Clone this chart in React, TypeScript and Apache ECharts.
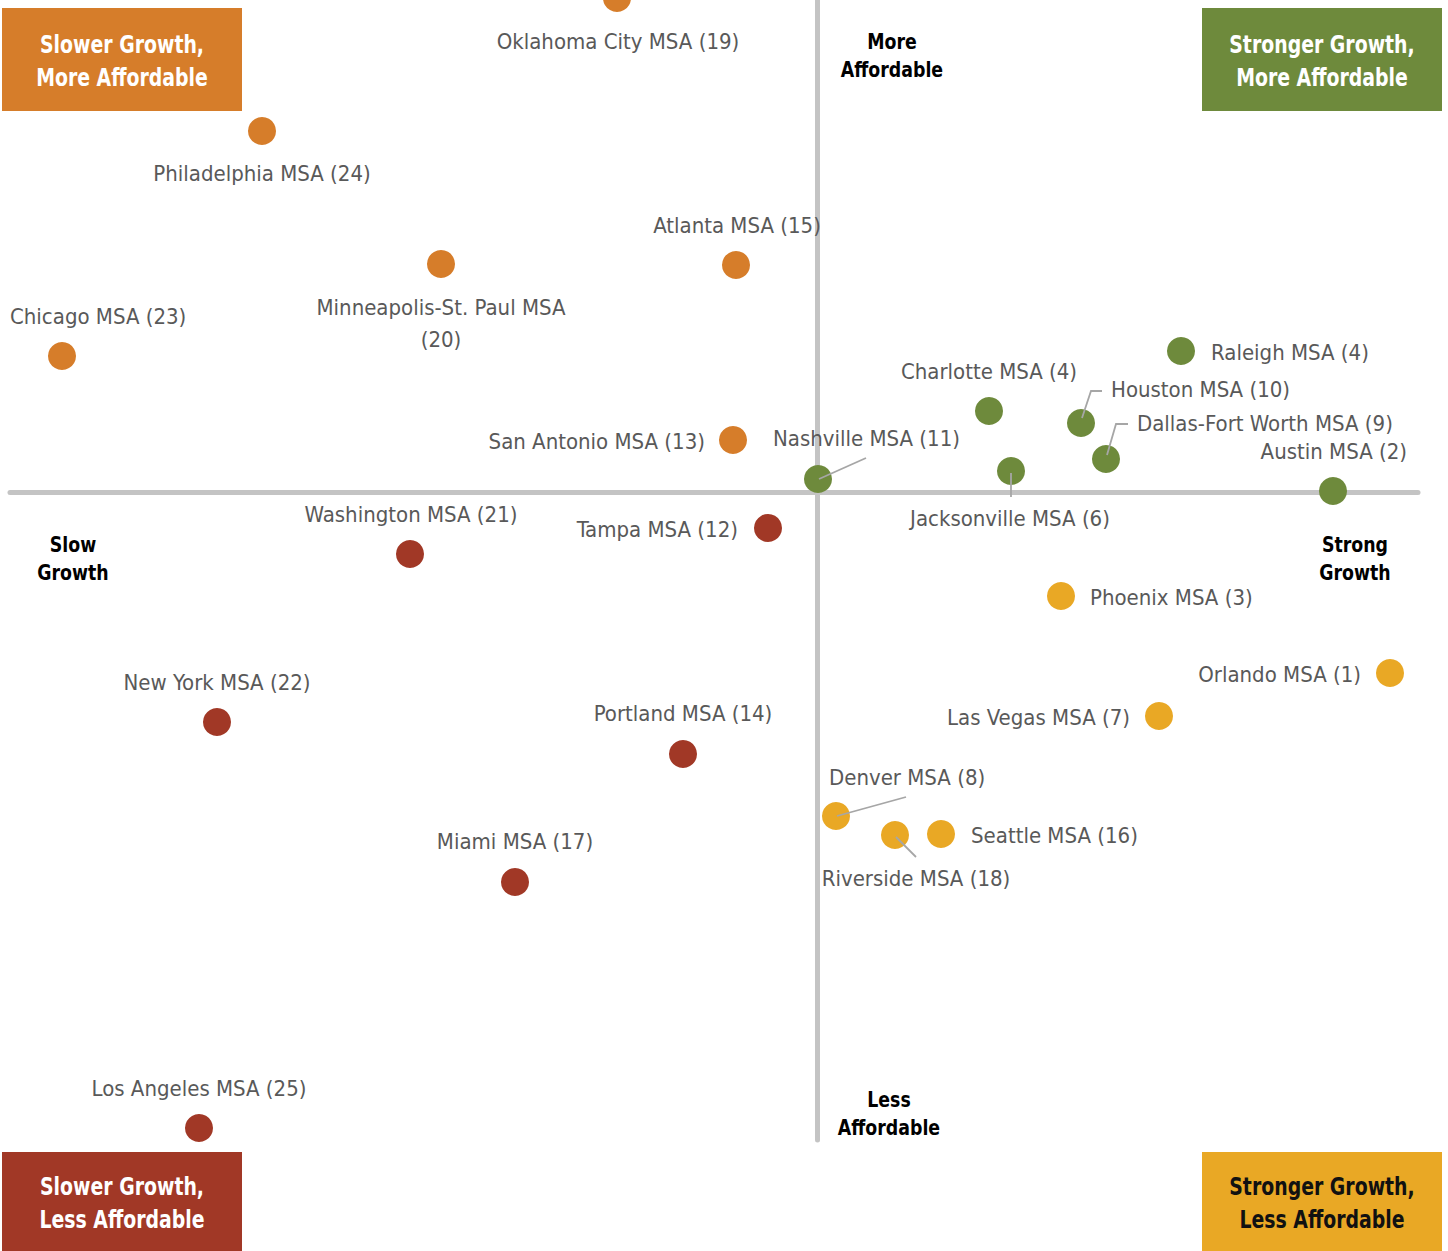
import React, { useEffect, useRef } from "react";
import * as echarts from "echarts";

// Growth score (x) vs affordability score (y); axes cross at 0
const orangeNames = ["Oklahoma City MSA (19)", "Philadelphia MSA (24)", "Atlanta MSA (15)", "Minneapolis-St. Paul MSA\n(20)", "Chicago MSA (23)", "San Antonio MSA (13)"];
const orangeX = [-2.0, -5.55, -0.81, -3.76, -7.55, -0.84];
const orangeY = [4.94, 3.61, 2.27, 2.28, 1.36, 0.52];

const greenNames = ["Raleigh MSA (4)", "Charlotte MSA (4)", "Houston MSA (10)", "Dallas-Fort Worth MSA (9)", "Nashville MSA (11)", "Jacksonville MSA (6)", "Austin MSA (2)"];
const greenX = [3.64, 1.72, 2.64, 2.89, 0.01, 1.94, 5.16];
const greenY = [1.41, 0.81, 0.69, 0.33, 0.13, 0.21, 0.01];

const redNames = ["Washington MSA (21)", "Tampa MSA (12)", "New York MSA (22)", "Portland MSA (14)", "Miami MSA (17)", "Los Angeles MSA (25)"];
const redX = [-4.07, -0.49, -6.0, -1.34, -3.02, -6.18];
const redY = [-0.62, -0.36, -2.3, -2.62, -3.9, -6.36];

const yellowNames = ["Phoenix MSA (3)", "Orlando MSA (1)", "Las Vegas MSA (7)", "Denver MSA (8)", "Riverside MSA (18)", "Seattle MSA (16)"];
const yellowX = [2.44, 5.73, 3.42, 0.19, 0.78, 1.24];
const yellowY = [-1.04, -1.81, -2.24, -3.24, -3.43, -3.42];

const quadrantTitles = ["Slower Growth,\nMore Affordable", "Stronger Growth,\nMore Affordable", "Slower Growth,\nLess Affordable", "Stronger Growth,\nLess Affordable"];
const axisTitles = ["More\nAffordable", "Less\nAffordable", "Slow\nGrowth", "Strong\nGrowth"];

// label placement (style only)
const labelLayout: Record<string, [string, number, number]> = {
  "Oklahoma City MSA (19)": ["center", 1, 43],
  "Philadelphia MSA (24)": ["center", 0, 42],
  "Atlanta MSA (15)": ["center", 1, -40],
  "Minneapolis-St. Paul MSA\n(20)": ["center", 0, 59],
  "Chicago MSA (23)": ["left", -52, -40],
  "San Antonio MSA (13)": ["right", -28, 1],
  "Raleigh MSA (4)": ["left", 30, 1],
  "Charlotte MSA (4)": ["center", 0, -40],
  "Houston MSA (10)": ["left", 30, -34],
  "Dallas-Fort Worth MSA (9)": ["left", 31, -36],
  "Nashville MSA (11)": ["left", -45, -41],
  "Jacksonville MSA (6)": ["center", -1, 47],
  "Austin MSA (2)": ["right", 74, -40],
  "Washington MSA (21)": ["center", 1, -40],
  "Tampa MSA (12)": ["right", -30, 1],
  "New York MSA (22)": ["center", 0, -40],
  "Portland MSA (14)": ["center", 0, -41],
  "Miami MSA (17)": ["center", 0, -41],
  "Los Angeles MSA (25)": ["center", 0, -40],
  "Phoenix MSA (3)": ["left", 29, 1],
  "Orlando MSA (1)": ["right", -29, 1],
  "Las Vegas MSA (7)": ["right", -29, 1],
  "Denver MSA (8)": ["left", -7, -39],
  "Riverside MSA (18)": ["center", 21, 43],
  "Seattle MSA (16)": ["left", 30, 1],
};

// leader lines: pixel offsets from the point centre
const leaders: Record<string, number[][]> = {
  "Houston MSA (10)": [[1, -5], [10, -32], [21, -32]],
  "Dallas-Fort Worth MSA (9)": [[1, -4], [10, -35], [22, -35]],
  "Nashville MSA (11)": [[1, 0], [48, -21]],
  "Jacksonville MSA (6)": [[0, 2], [0, 26]],
  "Denver MSA (8)": [[1, 0], [70, -19]],
  "Riverside MSA (18)": [[1, 2], [21, 22]],
};

const FONT = "'DejaVu Sans Condensed', 'Liberation Sans Narrow', Arial, sans-serif";
const COLORS = { orange: "#d67d2a", green: "#6e8a3c", red: "#a13826", yellow: "#e9a825" };

function build(names: string[], xs: number[], ys: number[]) {
  return names.map((n, i) => {
    const l = labelLayout[n] || ["center", 0, -40];
    return {
      name: n,
      value: [xs[i], ys[i]],
      label: { align: l[0], offset: [l[1], l[2]] },
    };
  });
}

export default function App() {
  const ref = useRef<HTMLDivElement>(null);
  useEffect(() => {
    document.body.style.margin = "0";
    const chart = echarts.init(ref.current!, null, { renderer: "svg" });
    const mkSeries = (names: string[], xs: number[], ys: number[], color: string) => ({
      type: "scatter",
      symbolSize: 28,
      clip: false,
      z: 5,
      itemStyle: { color, opacity: 1 },
      label: {
        show: true,
        position: "inside",
        formatter: "{b}",
        color: "#595959",
        fontSize: 22,
        lineHeight: 32,
        fontFamily: FONT,
        verticalAlign: "middle",
      },
      emphasis: { disabled: true },
      data: build(names, xs, ys),
    });
    const axisLine = { show: true, onZero: true, lineStyle: { color: "#c4c4c4", width: 5 } };
    const boxes = [
      { x: 2, y: 8, h: 103, fill: COLORS.orange, tc: "#ffffff", t: quadrantTitles[0] },
      { x: 1202, y: 8, h: 103, fill: COLORS.green, tc: "#ffffff", t: quadrantTitles[1] },
      { x: 2, y: 1152, h: 99, fill: COLORS.red, tc: "#ffffff", t: quadrantTitles[2] },
      { x: 1202, y: 1152, h: 99, fill: COLORS.yellow, tc: "#111111", t: quadrantTitles[3] },
    ];
    const boxGraphics = boxes.map((b) => ({
      type: "group",
      x: b.x,
      y: b.y,
      children: [
        { type: "rect", shape: { x: 0, y: 0, width: 240, height: b.h }, style: { fill: b.fill } },
        {
          type: "text",
          x: 120,
          y: b.h / 2 + 1,
          scaleX: 0.84,
          style: {
            text: b.t,
            fill: b.tc,
            font: `bold 25px ${FONT}`,
            lineHeight: 33,
            align: "center",
            verticalAlign: "middle",
          },
        },
      ],
    }));
    const axisTitlePos = [
      [892, 56],
      [889, 1114],
      [73, 559],
      [1355, 559],
    ];
    const axisTitleGraphics = axisTitles.map((t, i) => ({
      type: "text",
      x: axisTitlePos[i][0],
      y: axisTitlePos[i][1],
      scaleX: 0.92,
      style: {
        text: t,
        fill: "#000000",
        font: `bold 21px ${FONT}`,
        lineHeight: 28,
        align: "center",
        verticalAlign: "middle",
      },
    }));

    const option: any = {
      animation: false,
      grid: { left: 10, right: 30, top: 0, bottom: 111, containLabel: false },
      xAxis: {
        type: "value",
        min: -8.07,
        max: 6.01,
        axisLine,
        axisTick: { show: false },
        axisLabel: { show: false },
        splitLine: { show: false },
      },
      yAxis: {
        type: "value",
        min: -6.48,
        max: 4.92,
        axisLine,
        axisTick: { show: false },
        axisLabel: { show: false },
        splitLine: { show: false },
      },
      series: [
        mkSeries(orangeNames, orangeX, orangeY, COLORS.orange),
        mkSeries(greenNames, greenX, greenY, COLORS.green),
        mkSeries(redNames, redX, redY, COLORS.red),
        mkSeries(yellowNames, yellowX, yellowY, COLORS.yellow),
      ],
      graphic: [...boxGraphics, ...axisTitleGraphics],
    };
    chart.setOption(option);

    // leader lines, positioned from the data through the chart's scales
    const all: [string, number, number][] = [];
    const push = (n: string[], xs: number[], ys: number[]) => n.forEach((nm, i) => all.push([nm, xs[i], ys[i]]));
    push(greenNames, greenX, greenY);
    push(yellowNames, yellowX, yellowY);
    const leaderGraphics: any[] = [];
    all.forEach(([nm, x, y]) => {
      const off = leaders[nm];
      if (!off) return;
      const p = chart.convertToPixel({ gridIndex: 0 }, [x, y]) as number[];
      leaderGraphics.push({
        type: "polyline",
        z: 100,
        shape: { points: off.map((o) => [p[0] + o[0], p[1] + o[1]]) },
        style: { stroke: "#a6a6a6", lineWidth: 1.8, fill: null },
      });
    });
    chart.setOption({ graphic: [...boxGraphics, ...axisTitleGraphics, ...leaderGraphics] });

    return () => chart.dispose();
  }, []);
  return <div ref={ref} style={{ width: 1448, height: 1251 }} />;
}
